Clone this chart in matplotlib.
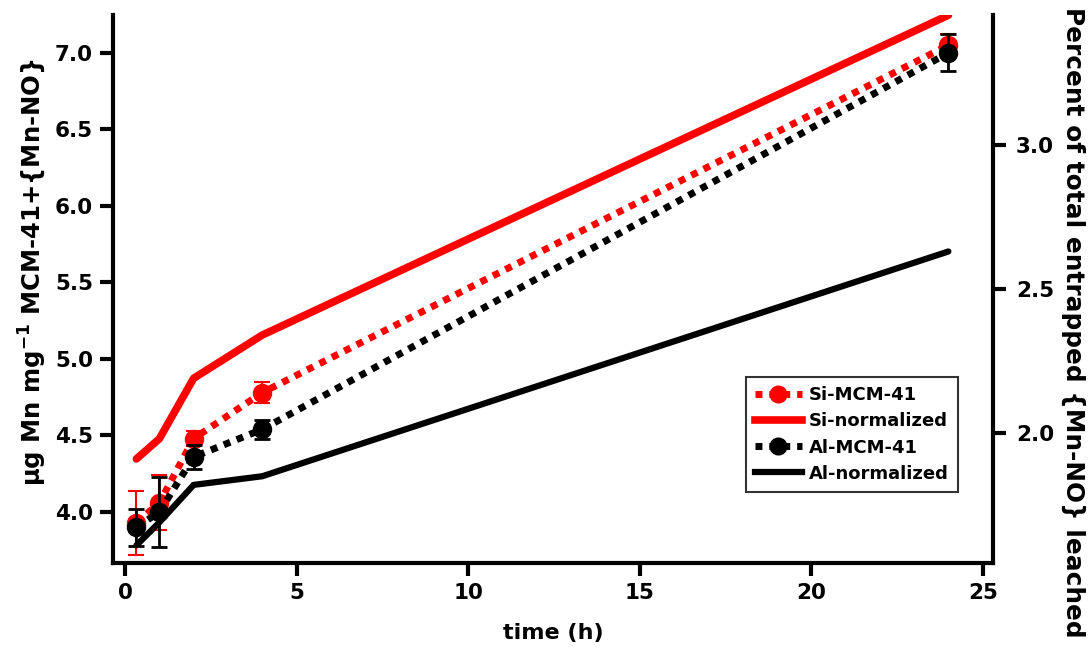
import matplotlib
matplotlib.use("Agg")
import matplotlib.pyplot as plt
from matplotlib.lines import Line2D
from matplotlib.ticker import FormatStrFormatter

plt.rcParams['font.family'] = ['DejaVu Sans']
plt.rcParams['font.weight'] = 'bold'
plt.rcParams['mathtext.default'] = 'bf'

# Sampling times (h)
time_h = [0.33, 1, 2, 4, 24]

# Mn leached per mg of material (left axis)
si_mcm = [3.93, 4.06, 4.48, 4.78, 7.05]
si_err = [0.21, 0.18, 0.05, 0.07, 0.07]
al_mcm = [3.90, 4.00, 4.36, 4.54, 7.00]
al_err = [0.12, 0.23, 0.08, 0.06, 0.12]

# Percent of total entrapped complex leached (right axis)
si_norm = [1.91, 1.98, 2.19, 2.34, 3.45]
al_norm = [1.61, 1.69, 1.82, 1.85, 2.63]

fig = plt.figure(figsize=(10.9, 6.48), dpi=100)
ax = fig.add_axes([0.1037, 0.1312, 0.8073, 0.8458])
ax2 = ax.twinx()

dot = (0, (1, 1))
ax.errorbar(time_h, si_mcm, yerr=si_err, color='red', linestyle=dot, linewidth=5,
            marker='o', markersize=13, elinewidth=1.5, capsize=6, capthick=1.5,
            zorder=3)
ax.errorbar(time_h, al_mcm, yerr=al_err, color='black', linestyle=dot, linewidth=5,
            marker='o', markersize=13, elinewidth=2, capsize=6, capthick=2,
            zorder=4)
ax2.plot(time_h, si_norm, color='red', linewidth=5.5, solid_capstyle='round')
ax2.plot(time_h, al_norm, color='black', linewidth=4.5, solid_capstyle='round')

ax.set_xlim(-0.35, 25.3)
ax.set_ylim(3.667, 7.248)
ax2.set_ylim(1.549, 3.451)

ax.set_xticks([0, 5, 10, 15, 20, 25])
ax.set_yticks([4.0, 4.5, 5.0, 5.5, 6.0, 6.5, 7.0])
ax2.set_yticks([2.0, 2.5, 3.0])
ax.yaxis.set_major_formatter(FormatStrFormatter('%.1f'))
ax2.yaxis.set_major_formatter(FormatStrFormatter('%.1f'))

for a in (ax, ax2):
    a.spines['top'].set_visible(False)
    for s in ('left', 'right', 'bottom'):
        a.spines[s].set_linewidth(3)
    a.tick_params(width=3, length=9.5, labelsize=15.5, pad=5)
ax.spines['right'].set_visible(False)
ax2.spines['left'].set_visible(False)
ax2.spines['bottom'].set_visible(False)
ax2.tick_params(pad=7)

for lab in ax.get_xticklabels() + ax.get_yticklabels() + ax2.get_yticklabels():
    lab.set_fontweight('bold')

ax.set_xlabel('time (h)', fontsize=16, fontweight='bold', labelpad=14)
ax.set_ylabel(r'μg Mn mg$^{-1}$ MCM-41+{Mn-NO}', fontsize=17.5,
              fontweight='bold')
ax.yaxis.set_label_coords(-0.074, 0.53)
ax2.set_ylabel('Percent of total entrapped {Mn-NO} leached', fontsize=17.8,
               fontweight='bold', rotation=270, va='center')
ax2.yaxis.set_label_coords(1.091, 0.44)

handles = [
    Line2D([], [], color='red', linestyle=dot, linewidth=5, marker='o', markersize=12),
    Line2D([], [], color='red', linewidth=5.5),
    Line2D([], [], color='black', linestyle=dot, linewidth=5, marker='o', markersize=12),
    Line2D([], [], color='black', linewidth=4.5),
]
labels = ['Si-MCM-41', 'Si-normalized', 'Al-MCM-41', 'Al-normalized']
leg = ax.legend(handles, labels, loc='lower left', bbox_to_anchor=(0.719, 0.13),
                frameon=True, fancybox=False, edgecolor='black',
                prop={'weight': 'bold', 'size': 13}, handlelength=2.6,
                borderpad=0.5, labelspacing=0.45, handletextpad=0.4,
                borderaxespad=0)
leg.get_frame().set_linewidth(1.5)

fig.savefig('out.png', dpi=100)
